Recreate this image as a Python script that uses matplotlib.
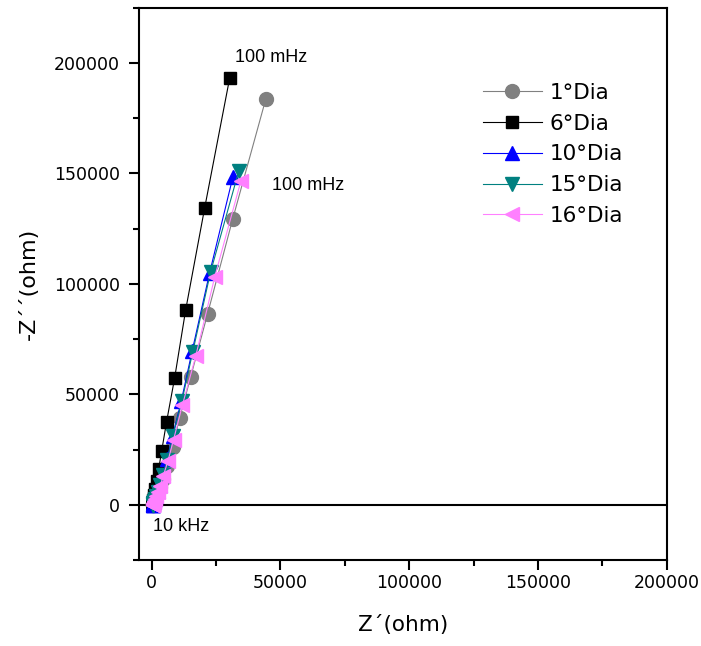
import matplotlib
matplotlib.use("Agg")
import matplotlib.pyplot as plt
from matplotlib.ticker import MultipleLocator

plt.rcParams['font.family'] = ['DejaVu Sans']

# Nyquist data, 100 mHz -> 10 kHz
dia1_re = [44300, 31500, 21700, 15100, 10900, 8100, 5900, 4300, 3200, 2400, 1800,
           1400, 1100, 880, 720, 610, 530, 480, 445, 420, 405]
dia1_im = [183600, 129500, 86400, 57700, 39500, 26400, 17600, 11800, 7900, 5300, 3500,
           2350, 1550, 1050, 700, 470, 320, 220, 150, 110, 80]

dia6_re = [30300, 20600, 13200, 8900, 5800, 3900, 2700, 1900, 1400, 1050, 800,
           640, 530, 460, 410, 380, 360, 345, 335, 330, 325]
dia6_im = [193200, 134500, 88200, 57300, 37700, 24500, 16100, 10600, 7000, 4600, 3000,
           2000, 1300, 860, 570, 380, 250, 170, 120, 90, 70]

dia10_re = [31500, 22500, 15700, 11500, 8100, 6000, 4300, 3100, 2300, 1700, 1300,
            1000, 800, 660, 560, 490, 440, 405, 380, 365, 355]
dia10_im = [148200, 105000, 69500, 47000, 31200, 20600, 13700, 9100, 6100, 4000, 2700,
            1800, 1200, 800, 540, 360, 240, 165, 115, 80, 60]

dia15_re = [33800, 22900, 15900, 11700, 8200, 6100, 4400, 3200, 2350, 1750, 1330,
            1020, 810, 670, 570, 500, 450, 410, 385, 370, 360]
dia15_im = [151000, 105500, 69000, 46800, 31000, 20500, 13600, 9000, 6000, 4000, 2650,
            1750, 1170, 780, 520, 350, 235, 160, 110, 78, 58]

dia16_re = [34600, 24500, 17100, 11900, 8500, 6300, 4500, 3300, 2400, 1800, 1360,
            1050, 830, 680, 580, 505, 455, 415, 390, 372, 362]
dia16_im = [146400, 103200, 67300, 45000, 29500, 19800, 13100, 8700, 5800, 3850, 2550,
            1700, 1130, 750, 500, 335, 225, 155, 108, 76, 56]

labels = ["1°Dia", "6°Dia", "10°Dia", "15°Dia", "16°Dia"]

fig = plt.figure(figsize=(7.01, 6.46), dpi=100)
ax = fig.add_axes([0.198, 0.133, 0.753, 0.855])

ax.axhline(0, color='black', lw=1.5, zorder=1)

ax.plot(dia1_re, dia1_im, color='#808080', marker='o', ms=10, lw=0.8, label=labels[0], zorder=3)
ax.plot(dia6_re, dia6_im, color='black', marker='s', ms=9, lw=0.8, label=labels[1], zorder=3)
ax.plot(dia10_re, dia10_im, color='#0000ff', marker='^', ms=10, lw=0.8, label=labels[2], zorder=3)
ax.plot(dia15_re, dia15_im, color='#008080', marker='v', ms=10, lw=0.8, label=labels[3], zorder=3)
ax.plot(dia16_re, dia16_im, color='#ff80ff', marker='<', ms=10, lw=0.8, label=labels[4], zorder=3)

ax.set_xlim(-5000, 200000)
ax.set_ylim(-25000, 225000)
ax.xaxis.set_major_locator(MultipleLocator(50000))
ax.xaxis.set_minor_locator(MultipleLocator(25000))
ax.yaxis.set_major_locator(MultipleLocator(50000))
ax.yaxis.set_minor_locator(MultipleLocator(25000))
ax.tick_params(which='major', direction='out', length=7.2, width=1.5, labelsize=12.5,
               top=False, right=False)
ax.tick_params(axis='x', which='major', pad=2.5)
ax.tick_params(axis='y', which='major', pad=6.5)
ax.tick_params(which='minor', direction='out', length=4, width=1.5, top=False, right=False)
for sp in ax.spines.values():
    sp.set_linewidth(1.5)

ax.set_xlabel("Z´(ohm)", fontsize=15.5, labelpad=17)
ax.set_ylabel("-Z´´(ohm)", fontsize=16, labelpad=11)

ann = dict(fontsize=13, family=['Liberation Sans', 'DejaVu Sans'], ha='left', va='center')
ax.text(32200, 202700, "100 mHz", **ann)
ax.text(46600, 144500, "100 mHz", **ann)
ax.text(400, -10000, "10 kHz", **ann)

ax.legend(loc='upper left', bbox_to_anchor=(0.6515, 0.864), frameon=False, fontsize=15.5,
          handlelength=2.74, labelspacing=0.5, handletextpad=0.37,
          borderpad=0, borderaxespad=0)

fig.savefig("out.png", dpi=100)
